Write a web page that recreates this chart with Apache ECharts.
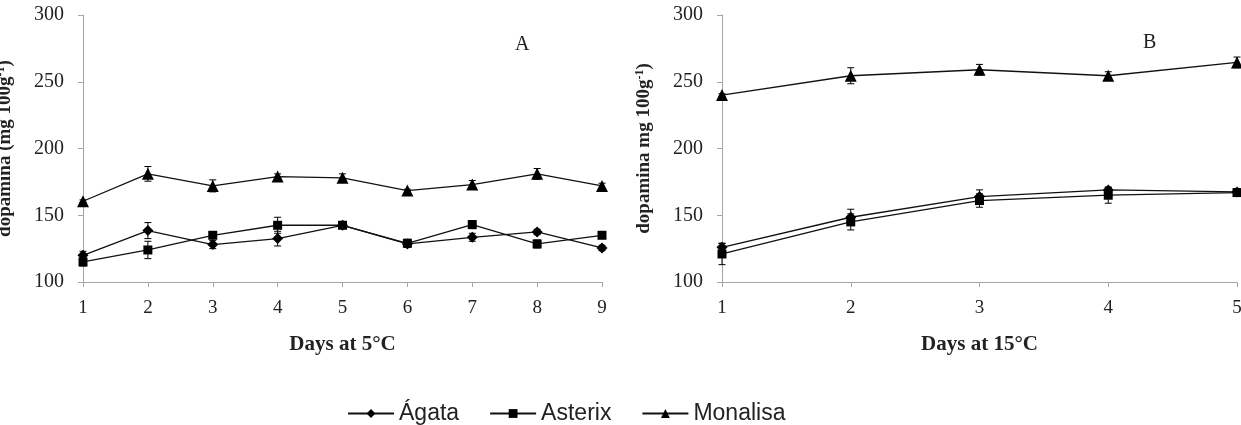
<!DOCTYPE html>
<html>
<head>
<meta charset="utf-8">
<script src="https://cdn.jsdelivr.net/npm/echarts@6/dist/echarts.min.js"></script>
<style>
  html, body { margin: 0; padding: 0; background: #fff; }
  #chart { width: 1241px; height: 425px; }
</style>
</head>
<body>
<div id="chart"></div>
<script>
  const seriesNames = ["Ágata", "Asterix", "Monalisa"];
  const symbols = ["diamond", "rect", "triangle"];
  const symbolSizes = [11, 9, 12];

  // panel A: days at 5 °C
  const daysA = ["1", "2", "3", "4", "5", "6", "7", "8", "9"];
  const agataA = [120, 138.5, 128, 132.5, 142.5, 128.5, 133.5, 137.5, 125.5];
  const asterixA = [115, 124, 135, 142.5, 142.5, 129, 143, 128.5, 135];
  const monalisaA = [160.5, 181, 172, 179, 178, 168.5, 173, 181, 172];
  const agataErrA = [3, 6, 3, 5.5, 2, 2, 3, 2, 2];
  const asterixErrA = [3, 6.5, 2, 6, 2, 3, 3, 3, 2];
  const monalisaErrA = [1, 5.5, 4.5, 2, 3, 1, 3, 4, 2];

  // panel B: days at 15 °C
  const daysB = ["1", "2", "3", "4", "5"];
  const agataB = [126, 148.5, 164, 169, 167.5];
  const asterixB = [121, 145, 161, 165, 167];
  const monalisaB = [240, 254.5, 259, 254.5, 264.5];
  const agataErrB = [3, 6, 5, 2, 2];
  const asterixErrB = [8, 6, 5, 6, 2];
  const monalisaErrB = [1, 6, 4, 3, 4];

  const yTicks = { min: 100, max: 300, interval: 50 };

  const serif = "Liberation Serif";
  const axisGrey = "#a6a6a6";

  const makeXAxis = (gridIndex, days, title) => ({
    type: "category",
    gridIndex,
    data: days,
    boundaryGap: false,
    axisLine: { lineStyle: { color: axisGrey, width: 1 } },
    axisTick: { alignWithLabel: true, length: 5, lineStyle: { color: axisGrey } },
    axisLabel: { fontFamily: serif, fontSize: 19, color: "#222", margin: 17 },
    name: title,
    nameLocation: "middle",
    nameGap: 52,
    nameTextStyle: { fontFamily: serif, fontSize: 21, fontWeight: "bold", color: "#222" }
  });

  const makeYAxis = (gridIndex, title) => ({
    type: "value",
    gridIndex,
    min: yTicks.min,
    max: yTicks.max,
    interval: yTicks.interval,
    splitLine: { show: false },
    axisLine: { show: true, lineStyle: { color: axisGrey, width: 1 } },
    axisTick: { show: true, length: 5, lineStyle: { color: axisGrey } },
    axisLabel: { fontFamily: serif, fontSize: 20, color: "#222", margin: 19 },
    name: title,
    nameLocation: "middle",
    nameGap: 68,
    nameTextStyle: {
      fontFamily: serif, fontSize: 19, fontWeight: "bold", color: "#222",
      rich: {
        b: { fontFamily: serif, fontSize: 19, fontWeight: "bold", color: "#222" },
        sup: { fontFamily: serif, fontSize: 12, fontWeight: "bold", color: "#222", verticalAlign: "top", padding: [0, 0, 8, 0] }
      }
    }
  });

  const lineSeries = (name, i, axisIndex, values) => ({
    name,
    type: "line",
    xAxisIndex: axisIndex,
    yAxisIndex: axisIndex,
    data: values,
    symbol: symbols[i],
    symbolSize: symbolSizes[i],
    lineStyle: { color: "#111", width: 1.3 },
    itemStyle: { color: "#000" },
    z: 3
  });

  const errorSeries = (axisIndex, values, errors) => ({
    type: "custom",
    xAxisIndex: axisIndex,
    yAxisIndex: axisIndex,
    data: values.map((v, k) => [k, v, errors[k]]),
    silent: true,
    z: 2,
    renderItem: (params, api) => {
      const x = api.value(0);
      const y = api.value(1);
      const e = api.value(2);
      const top = api.coord([x, y + e]);
      const bot = api.coord([x, y - e]);
      const style = { stroke: "#000", lineWidth: 1 };
      const cap = 3.5;
      return {
        type: "group",
        children: [
          { type: "line", shape: { x1: top[0], y1: top[1], x2: bot[0], y2: bot[1] }, style },
          { type: "line", shape: { x1: top[0] - cap, y1: top[1], x2: top[0] + cap, y2: top[1] }, style },
          { type: "line", shape: { x1: bot[0] - cap, y1: bot[1], x2: bot[0] + cap, y2: bot[1] }, style }
        ]
      };
    }
  });

  const chart = echarts.init(document.getElementById("chart"), null, { renderer: "canvas" });
  chart.setOption({
    animation: false,
    backgroundColor: "#fff",
    title: [
      { text: "A", left: 510, top: 30, textStyle: { fontFamily: serif, fontSize: 20, fontWeight: "normal", color: "#222" } },
      { text: "B", left: 1138, top: 28, textStyle: { fontFamily: serif, fontSize: 20, fontWeight: "normal", color: "#222" } }
    ],
    legend: {
      data: seriesNames,
      left: 342,
      top: 397,
      itemWidth: 46,
      itemHeight: 11,
      itemGap: 30,
      textStyle: { fontFamily: "Liberation Sans", fontSize: 23, color: "#222" }
    },
    grid: [
      { left: 83, right: 639, top: 15, bottom: 143, outerBoundsMode: "none" },
      { left: 722, right: 4, top: 15, bottom: 143, outerBoundsMode: "none" }
    ],
    xAxis: [
      makeXAxis(0, daysA, "Days at 5°C"),
      makeXAxis(1, daysB, "Days at 15°C")
    ],
    yAxis: [
      makeYAxis(0, "{b|dopamina (mg 100g}{sup|-1}{b|)}"),
      makeYAxis(1, "{b|dopamina mg 100g}{sup|-1}{b|)}")
    ],
    series: [
      errorSeries(0, agataA, agataErrA),
      errorSeries(0, asterixA, asterixErrA),
      errorSeries(0, monalisaA, monalisaErrA),
      lineSeries(seriesNames[0], 0, 0, agataA),
      lineSeries(seriesNames[1], 1, 0, asterixA),
      lineSeries(seriesNames[2], 2, 0, monalisaA),
      errorSeries(1, agataB, agataErrB),
      errorSeries(1, asterixB, asterixErrB),
      errorSeries(1, monalisaB, monalisaErrB),
      lineSeries(seriesNames[0], 0, 1, agataB),
      lineSeries(seriesNames[1], 1, 1, asterixB),
      lineSeries(seriesNames[2], 2, 1, monalisaB)
    ]
  });
</script>
</body>
</html>
